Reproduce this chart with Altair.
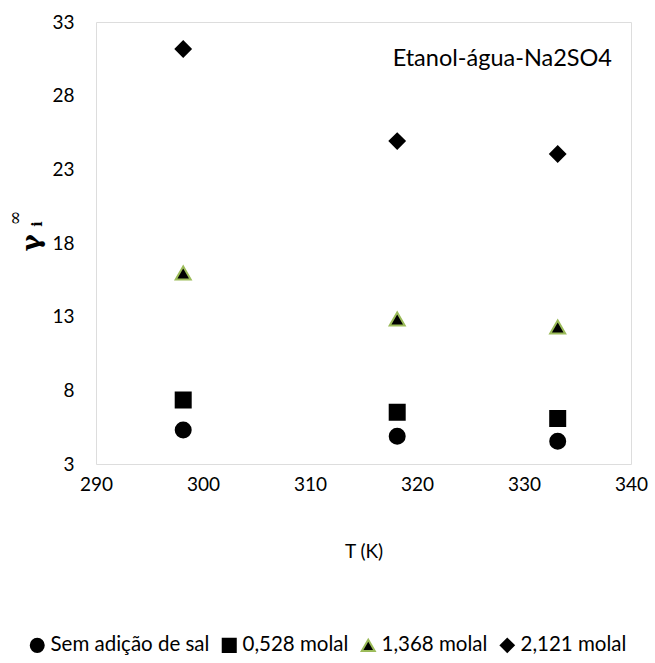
import altair as alt
import pandas as pd

temps = [298.15, 318.15, 333.15]
series = ["Sem adição de sal", "0,528 molal", "1,368 molal", "2,121 molal"]
vals_sem = [5.30, 4.88, 4.55]
vals_0528 = [7.34, 6.52, 6.08]
vals_1368 = [15.96, 12.84, 12.30]
vals_2121 = [31.17, 24.92, 24.04]
x_ticks = [290, 300, 310, 320, 330, 340]
y_ticks = [3, 8, 13, 18, 23, 28, 33]

rows = []
for name, vals in zip(series, [vals_sem, vals_0528, vals_1368, vals_2121]):
    for t, v in zip(temps, vals):
        rows.append({"T": t, "gamma": v, "serie": name})
df = pd.DataFrame(rows)

FONT = "Lato"
W, H = 535, 442

leg = dict(title=None, orient="none", direction="horizontal",
           legendX=-69, legendY=613, labelFontSize=20.5, labelFont=FONT,
           labelColor="black", symbolSize=170, columnPadding=8,
           labelOffset=3, symbolStrokeWidth=2, symbolFillColor="black")

points = alt.Chart(df).mark_point(filled=True, size=225, strokeWidth=2, fill="black", fillOpacity=1, opacity=1).encode(
    x=alt.X("T:Q", scale=alt.Scale(domain=[290, 340], nice=False, zero=False),
            axis=alt.Axis(values=x_ticks, title="T (K)", grid=False, domain=False, ticks=False,
                          labelFlush=False, labelPadding=11, titlePadding=48, labelFontSize=19,
                          titleFontSize=19, titleFontWeight="normal", labelFont=FONT, titleFont=FONT,
                          labelColor="black", titleColor="black")),
    y=alt.Y("gamma:Q", scale=alt.Scale(domain=[3, 33], nice=False, zero=False),
            axis=alt.Axis(values=y_ticks, title=None, grid=False, domain=False, ticks=False,
                          labelFlush=False, labelPadding=22, labelFontSize=19, labelFont=FONT,
                          labelColor="black")),
    shape=alt.Shape("serie:N", sort=series,
                    scale=alt.Scale(domain=series, range=["circle", "square", "triangle-up", "diamond"]),
                    legend=alt.Legend(**leg)),
    stroke=alt.Stroke("serie:N", sort=series,
                      scale=alt.Scale(domain=series, range=["black", "black", "#9BBB59", "black"]),
                      legend=alt.Legend(**leg)),
)

label_df = pd.DataFrame({"txt": ["Etanol-água-Na2SO4"]})
annot = alt.Chart(label_df).mark_text(align="right", baseline="middle", fontSize=23.5, font=FONT, color="black").encode(
    text="txt:N", x=alt.value(516), y=alt.value(37))

gdf = pd.DataFrame({"g": ["γ"], "i": ["i"], "inf": ["∞"]})
gam = alt.Chart(gdf).mark_text(angle=270, align="center", baseline="middle", fontSize=26, fontWeight="bold",
                               font="DejaVu Serif", color="black").encode(
    text="g:N", x=alt.value(-64), y=alt.value(221))
sub = alt.Chart(gdf).mark_text(angle=270, align="center", baseline="middle", fontSize=14, fontWeight="bold",
                               font="DejaVu Serif", color="black").encode(
    text="i:N", x=alt.value(-58), y=alt.value(202))
sup = alt.Chart(gdf).mark_text(angle=270, align="center", baseline="middle", fontSize=18,
                               font="DejaVu Serif", color="black").encode(
    text="inf:N", x=alt.value(-80), y=alt.value(196))

chart = alt.layer(points, annot, gam, sub, sup).properties(
    width=W, height=H,
    autosize=alt.AutoSizeParams(type="none"),
    padding={"left": 96, "top": 22, "right": 655 - 96 - W, "bottom": 663 - 22 - H},
).configure_view(stroke="black", strokeWidth=2).configure(background="white")

chart.save("out.html", embed_options={"renderer": "svg", "actions": False})
